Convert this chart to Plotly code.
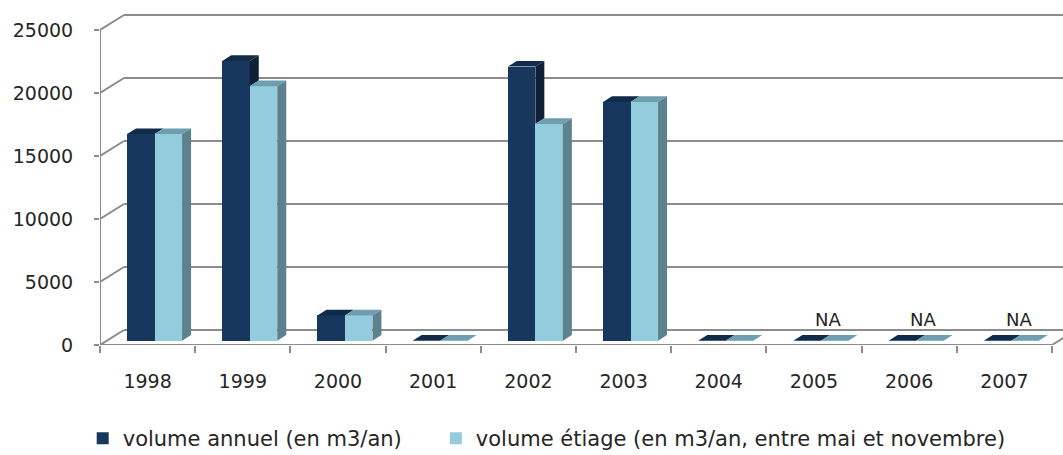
import plotly.graph_objects as go

# ---- data -------------------------------------------------------------
years = ["1998", "1999", "2000", "2001", "2002", "2003", "2004", "2005", "2006", "2007"]
volume_annuel = [16400, 22200, 2000, 0, 21750, 18950, 0, 0, 0, 0]
volume_etiage = [16400, 20200, 2000, 0, 17200, 18950, 0, 0, 0, 0]
etiage_labels = ["", "", "", "", "", "", "", "NA", "NA", "NA"]
y_ticks = [0, 5000, 10000, 15000, 20000, 25000]
y_tick_text = ["0", "5000", "10000", "15000", "20000", "25000"]
series_names = ["volume annuel (en m3/an)",
                "volume étiage (en m3/an, entre mai et novembre)"]

# ---- look -------------------------------------------------------------
DARK = {"front": "#17375E", "top": "#112B4B", "side": "#0D2036"}
LIGHT = {"front": "#93CDDD", "top": "#6E9FAF", "side": "#5D828E"}
GRID = "#8C8C8C"
TEXT = "#262626"
FONT = "DejaVu Sans"

# pseudo-3D geometry, in axis units
X_MAX, Y_MAX = 10.116, 26746
WALL_DX, WALL_DY = 0.252, 1190      # depth of floor / side wall
BAR_W = 0.289                       # width of one bar
BAR_Z0, BAR_DEPTH = 0.29, 0.375     # bar front position and depth (fraction of wall depth)

fx, fy = BAR_Z0 * WALL_DX, BAR_Z0 * WALL_DY
sx, sy = BAR_DEPTH * WALL_DX, BAR_DEPTH * WALL_DY
n = len(years)
centers = [i + 0.5 for i in range(n)]


def add_poly(xs, ys, pts):
    for px, py in pts:
        xs.append(px)
        ys.append(py)
    xs.append(pts[0][0])
    ys.append(pts[0][1])
    xs.append(None)
    ys.append(None)


def top_face(x0, x1, top):
    return [(x0, top), (x1, top), (x1 + sx, top + sy), (x0 + sx, top + sy)]


def side_face(x1, bottom, top):
    return [(x1, bottom), (x1, top), (x1 + sx, top + sy), (x1 + sx, bottom + sy)]


dark_top, dark_side, light_top, light_side = ([], []), ([], []), ([], []), ([], [])
dark_x, light_x = [], []
for c, va, ve in zip(centers, volume_annuel, volume_etiage):
    d0, d1 = c - BAR_W + fx, c + fx
    l0, l1 = c + fx, c + BAR_W + fx
    dark_x.append((d0 + d1) / 2)
    light_x.append((l0 + l1) / 2)
    add_poly(*dark_top, top_face(d0, d1, fy + va))
    if va > ve:
        # only the part of the side above the neighbouring bar is visible
        add_poly(*dark_side, side_face(d1, fy + ve, fy + va))
    add_poly(*light_top, top_face(l0, l1, fy + ve))
    if ve > 0:
        add_poly(*light_side, side_face(l1, fy, fy + ve))

fig = go.Figure()

# front faces of the columns
fig.add_trace(go.Bar(x=dark_x, y=volume_annuel, base=fy, width=BAR_W,
                     marker=dict(color=DARK["front"], line=dict(width=0)),
                     name=series_names[0], legend="legend"))
fig.add_trace(go.Bar(x=light_x, y=volume_etiage, base=fy, width=BAR_W,
                     marker=dict(color=LIGHT["front"], line=dict(width=0)),
                     name=series_names[1], legend="legend2"))

# top and side faces
for (xs, ys), col in [(dark_top, DARK["top"]), (dark_side, DARK["side"]),
                      (light_top, LIGHT["top"]), (light_side, LIGHT["side"])]:
    fig.add_trace(go.Scatter(x=xs, y=ys, mode="lines", fill="toself",
                             fillcolor=col, line=dict(width=0, color=col),
                             hoverinfo="skip", showlegend=False))

# walls: side-wall and back-wall gridlines, floor, front value axis
shapes = []
line = dict(color=GRID, width=2)
for v in y_ticks:
    shapes.append(dict(type="line", x0=0, y0=v, x1=WALL_DX, y1=v + WALL_DY,
                       line=line, layer="below"))
    shapes.append(dict(type="line", x0=WALL_DX, y0=v + WALL_DY, x1=X_MAX + 1,
                       y1=v + WALL_DY, line=line, layer="below"))
shapes.append(dict(type="line", x0=0, y0=0, x1=n, y1=0, line=line, layer="below"))
shapes.append(dict(type="line", x0=n, y0=0, x1=n + WALL_DX, y1=WALL_DY,
                   line=line, layer="below"))
shapes.append(dict(type="line", x0=0, y0=0, x1=0, y1=y_ticks[-1], line=line,
                   layer="below"))

# data labels for missing years
annotations = []
for c, lab in zip(centers, etiage_labels):
    if lab:
        annotations.append(dict(x=c + 0.15, y=fy + sy, text=lab, showarrow=False,
                                yanchor="bottom", yshift=3,
                                font=dict(family=FONT, size=18, color=TEXT)))

legend_style = dict(orientation="h", xanchor="left", xref="container",
                    yref="container", y=0.081, yanchor="top",
                    font=dict(family=FONT, size=21, color=TEXT),
                    bgcolor="rgba(0,0,0,0)")

fig.update_layout(
    width=1063, height=455,
    margin=dict(l=100, r=0, t=8, b=110, autoexpand=False),
    paper_bgcolor="white", plot_bgcolor="white",
    barmode="overlay", bargap=0,
    shapes=shapes, annotations=annotations,
    font=dict(family=FONT, size=19, color=TEXT),
    xaxis=dict(range=[0, X_MAX], tickmode="array", tickvals=centers, ticktext=years,
               ticks="", showgrid=False, zeroline=False, showline=False,
               ticklabelstandoff=23, fixedrange=True, automargin=False,
               minor=dict(tickmode="array", tickvals=list(range(n + 1)),
                          ticks="outside", ticklen=7, tickwidth=2,
                          tickcolor=GRID, showgrid=False)),
    yaxis=dict(range=[0, Y_MAX], tickmode="array", tickvals=y_ticks,
               ticktext=y_tick_text,
               ticks="outside", ticklen=5, tickwidth=2, tickcolor=GRID,
               showgrid=False, zeroline=False, showline=False,
               ticklabelstandoff=17, fixedrange=True, automargin=False),
    legend=dict(x=0.0778, **legend_style),
    legend2=dict(x=0.410, **legend_style),
    showlegend=True,
)

fig.write_html("out.html")
